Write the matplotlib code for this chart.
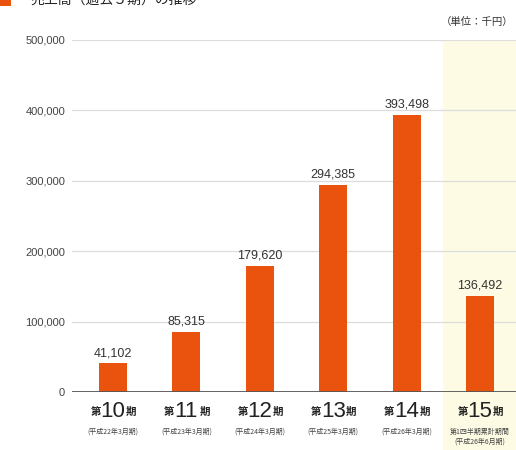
import matplotlib
matplotlib.use("Agg")
import matplotlib.pyplot as plt
from matplotlib.patches import Rectangle
from matplotlib import font_manager

# Data (単位：千円)
periods = ["10", "11", "12", "13", "14", "15"]
sub_labels = ["(平成22年3月期)", "(平成23年3月期)", "(平成24年3月期)",
              "(平成25年3月期)", "(平成26年3月期)", "(平成26年6月期)"]
q_note = "第1四半期累計期間"
sales = [41102, 85315, 179620, 294385, 393498, 136492]
y_ticks = [0, 100000, 200000, 300000, 400000, 500000]

JP = ["Noto Sans CJK JP", "DejaVu Sans"]
names = {f.name for f in font_manager.fontManager.ttflist}
NUM = ["Liberation Sans Narrow"] if "Liberation Sans Narrow" in names else ["Liberation Sans"]

BAR = "#E9530E"
HILITE = "#FDFBE3"
TXT = "#333333"

fig = plt.figure(figsize=(5.16, 4.5), dpi=100)
W, H = 516, 450

# highlighted column for the latest period (behind the axes)
fig.patches.append(Rectangle((443 / W, 0), 1 - 443 / W, (H - 40) / H,
                             transform=fig.transFigure, facecolor=HILITE,
                             edgecolor="none", zorder=-5))

ax = fig.add_axes([72 / W, 58 / H, (W - 72) / W, (392 - 40) / H])
ax.set_zorder(1)
ax.patch.set_alpha(0)
x = list(range(len(periods)))
ax.set_xlim(-0.559, 5.49)
ax.set_ylim(0, 500000)

for yv in y_ticks[1:]:
    ax.axhline(yv, color="#dddddd", lw=0.9, zorder=1)
ax.axhline(0, color="#555555", lw=2.0, zorder=3)

ax.bar(x, sales, width=0.38, color=BAR, zorder=2)
for xi, v in zip(x, sales):
    ax.annotate(f"{v:,}", (xi, v), xytext=(0, 4), textcoords="offset pixels",
                ha="center", va="bottom", fontsize=9, color=TXT,
                family=NUM)

ax.set_yticks(y_ticks)
ax.set_yticklabels([f"{t:,}" for t in y_ticks], family=NUM, fontsize=8,
                   color="#444444")
ax.tick_params(axis="y", length=0, pad=5)
ax.set_xticks([])
for s in ax.spines.values():
    s.set_visible(False)

# category labels: 第 + large number + 期
for xi, p, sub in zip(x, periods, sub_labels):
    ax.annotate(p, (xi, 0), xycoords=("data", "axes fraction"),
                xytext=(0, -9), textcoords="offset pixels",
                ha="center", va="top", fontsize=16, color="#222222",
                family=NUM)
    ax.annotate("第", (xi, 0), xycoords=("data", "axes fraction"),
                xytext=(-12, -15), textcoords="offset pixels",
                ha="right", va="top", fontsize=7.5, color="#222222",
                family=JP, fontweight="bold")
    ax.annotate("期", (xi, 0), xycoords=("data", "axes fraction"),
                xytext=(13, -15), textcoords="offset pixels",
                ha="left", va="top", fontsize=7.5, color="#222222",
                family=JP, fontweight="bold")
    if p == "15":
        ax.annotate(q_note, (xi, 0), xycoords=("data", "axes fraction"),
                    xytext=(0, -36), textcoords="offset pixels",
                    ha="center", va="top", fontsize=5, color="#444444",
                    family=JP)
        ax.annotate(sub, (xi, 0), xycoords=("data", "axes fraction"),
                    xytext=(0, -46), textcoords="offset pixels",
                    ha="center", va="top", fontsize=5, color="#444444",
                    family=JP)
    else:
        ax.annotate(sub, (xi, 0), xycoords=("data", "axes fraction"),
                    xytext=(0, -36), textcoords="offset pixels",
                    ha="center", va="top", fontsize=5, color="#444444",
                    family=JP)

# header, running off the top edge
fig.patches.append(Rectangle((0, 1 - 6 / H), 11 / W, 6 / H,
                             transform=fig.transFigure, facecolor=BAR,
                             edgecolor="none"))
fig.text(30 / W, 1 - 4 / H, "売上高（過去５期）の推移", fontsize=10,
         color="#222222", family=JP, ha="left", va="baseline")
fig.text(513 / W, 1 - 22 / H, "（単位：千円）", fontsize=7.5, color=TXT,
         family=JP, ha="right", va="center")

fig.savefig("out.png", dpi=100)
